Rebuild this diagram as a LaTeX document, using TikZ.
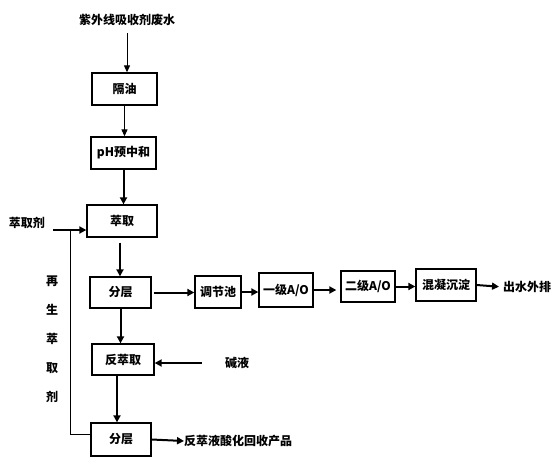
\documentclass[tikz,border=0pt]{standalone}
\usepackage{fontspec}
\setmainfont{Noto Sans CJK SC}
\usetikzlibrary{arrows.meta}
\begin{document}
\begin{tikzpicture}[x=1pt,y=-1pt,
  box/.style={draw, line width=1.3pt, inner sep=0pt, font=\fontsize{12}{14}\selectfont\bfseries},
  lbl/.style={inner sep=0pt, font=\fontsize{12}{14}\selectfont\bfseries},
  arr/.style={line width=1pt, -{Triangle[length=7pt,width=6pt]}},
  tarr/.style={line width=2pt, -{Triangle[length=7pt,width=7pt]}},
  ln/.style={line width=1pt}]
\useasboundingbox (0,0) rectangle (552,464);
% title
\node[lbl] (src) at (127,20) {紫外线吸收剂废水};
% main column
\node[box, minimum width=65pt, minimum height=32pt] (gy) at (124.5,89) {隔油};
\node[box, minimum width=65pt, minimum height=32pt] (ph) at (123.5,153) {pH预中和};
\node[box, minimum width=70pt, minimum height=32pt] (cq) at (122,221) {萃取};
\node[box, minimum width=61pt, minimum height=31pt] (fc1) at (120.5,292.5) {分层};
\node[box, minimum width=62pt, minimum height=31pt] (fcq) at (123,359.5) {反萃取};
\node[box, minimum width=60pt, minimum height=33pt] (fc2) at (121,439.5) {分层};
% right row
\node[box, minimum width=46pt, minimum height=32pt] (tj) at (218,292) {调节池};
\node[box, minimum width=54pt, minimum height=34pt] (ao1) at (286,290) {一级A/O};
\node[box, minimum width=54pt, minimum height=31pt] (ao2) at (368,286.5) {二级A/O};
\node[box, minimum width=60pt, minimum height=32pt] (hn) at (446,285) {混凝沉淀};
\node[lbl, anchor=west] (out) at (503,287) {出水外排};
% side labels
\node[lbl] (cqj) at (27,223) {萃取剂};
\node[lbl] (jy) at (237,363) {碱液};
\node[lbl, anchor=west] (prod) at (184,441) {反萃液酸化回收产品};
\node[lbl, align=center, font=\fontsize{12}{29}\selectfont\bfseries] (zs) at (52,339) {再\\生\\萃\\取\\剂};
% connectors
\draw[arr, shorten <=7pt] (src.south) -- (src.south |- gy.north);
\draw[arr] (gy.south) -- (gy.south |- ph.north);
\draw[tarr] (ph.south) -- (ph.south |- cq.north);
\draw[tarr, shorten <=5pt] ([xshift=-2pt]cq.south) -- ([xshift=-2pt]cq.south |- fc1.north);
\draw[tarr] (fc1.south) -- (fc1.south |- fcq.north);
\draw[tarr] ([xshift=-6pt]fcq.south) -- ([xshift=-6pt]fcq.south |- fc2.north);
\coordinate (a0) at (53,230);
\coordinate (lp) at (70,230);
\draw[tarr] (a0) -- (cq.west |- a0);
\draw[ln] ([yshift=5pt]fc2.west) -| (lp);
\draw[tarr, shorten <=2pt] (fc1.east) -- (tj.west |- fc1.east);
\draw[tarr] (tj.east) -- (ao1.west |- tj.east);
\draw[tarr] (ao1.east) -- ([xshift=-4pt]ao2.west |- ao1.east);
\draw[tarr] (ao2.east) -- (hn.west |- ao2.east);
\draw[tarr, shorten >=4pt] (hn.east) -- (out.west);
\draw[tarr, shorten <=23pt] (jy.west) -- (fcq.east |- jy.west);
\draw[tarr] (fc2.east) -- (prod.west);
\end{tikzpicture}
\end{document}
